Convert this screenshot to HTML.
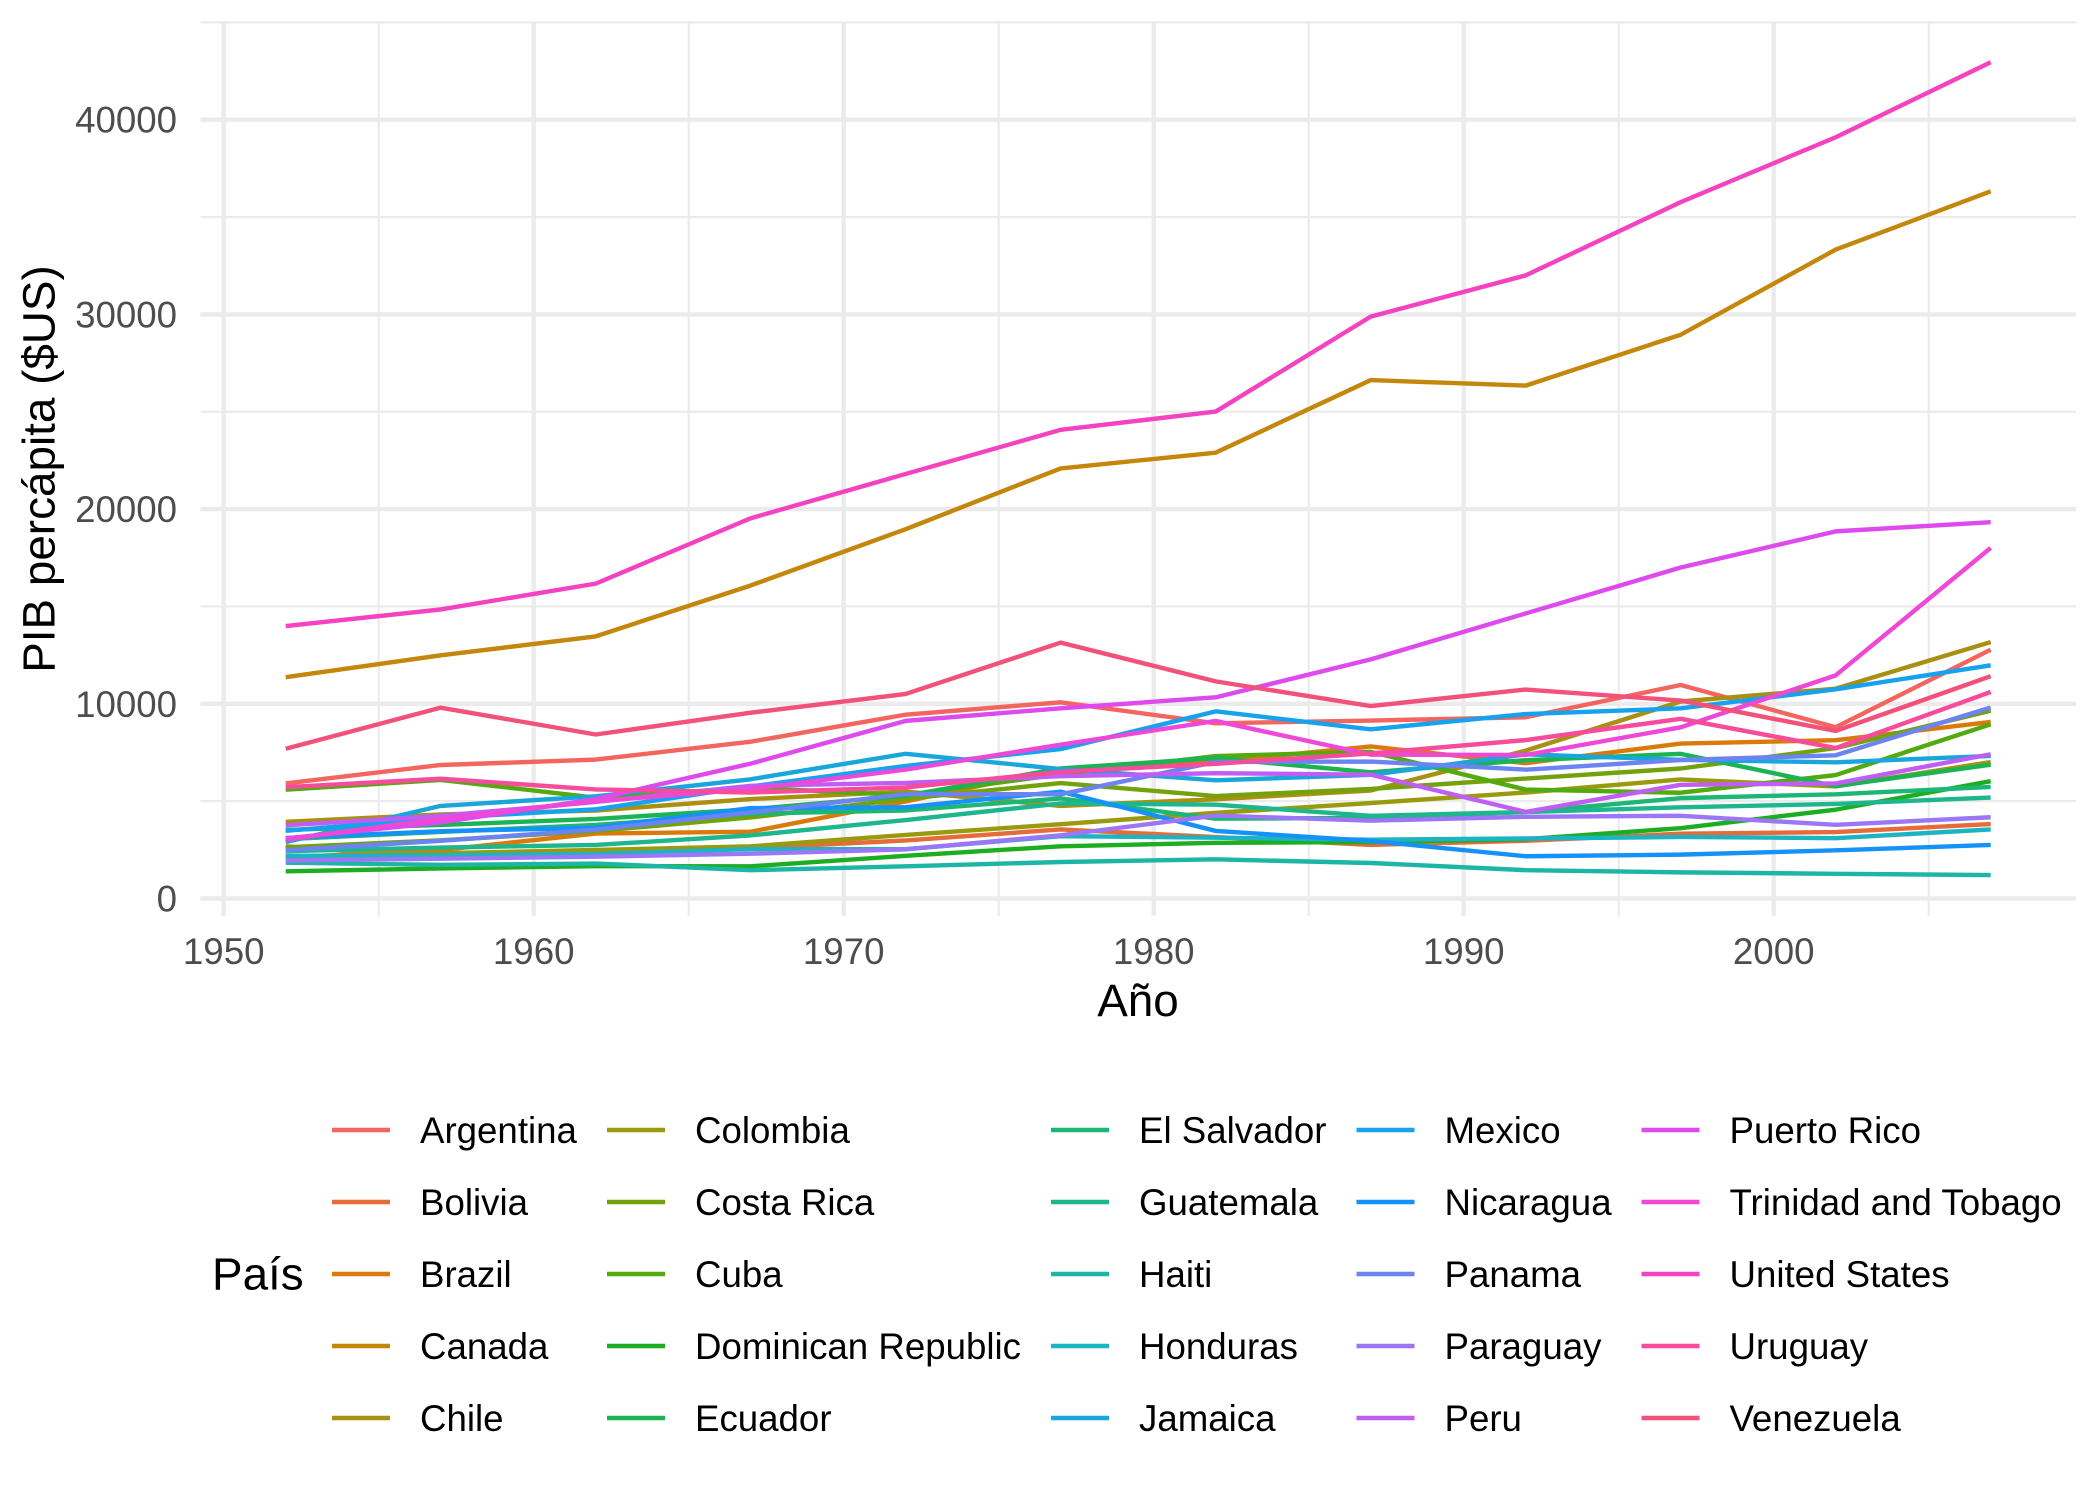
<!DOCTYPE html>
<html><head><meta charset="utf-8"><style>
html,body{margin:0;padding:0;background:#fff;}
svg{display:block;}
text{font-family:"Liberation Sans",Arial,sans-serif;}
</style></head><body>
<svg width="2099" height="1499" viewBox="0 0 2099 1499" xmlns="http://www.w3.org/2000/svg">
<rect width="2099" height="1499" fill="#fff"/>
<g stroke="#EBEBEB" stroke-width="2.2">
<line x1="200.45" x2="2076" y1="801.15" y2="801.15"/>
<line x1="200.45" x2="2076" y1="606.45" y2="606.45"/>
<line x1="200.45" x2="2076" y1="411.75" y2="411.75"/>
<line x1="200.45" x2="2076" y1="217.05" y2="217.05"/>
<line x1="200.45" x2="2076" y1="22.35" y2="22.35"/>
<line y1="21.6" y2="915.75" x1="378.7" x2="378.7"/>
<line y1="21.6" y2="915.75" x1="688.7" x2="688.7"/>
<line y1="21.6" y2="915.75" x1="998.7" x2="998.7"/>
<line y1="21.6" y2="915.75" x1="1308.7" x2="1308.7"/>
<line y1="21.6" y2="915.75" x1="1618.7" x2="1618.7"/>
<line y1="21.6" y2="915.75" x1="1928.7" x2="1928.7"/>
</g>
<g stroke="#EBEBEB" stroke-width="4.4">
<line x1="200.45" x2="2076" y1="898.5" y2="898.5"/>
<line x1="200.45" x2="2076" y1="703.8" y2="703.8"/>
<line x1="200.45" x2="2076" y1="509.1" y2="509.1"/>
<line x1="200.45" x2="2076" y1="314.4" y2="314.4"/>
<line x1="200.45" x2="2076" y1="119.7" y2="119.7"/>
<line y1="21.6" y2="915.75" x1="223.7" x2="223.7"/>
<line y1="21.6" y2="915.75" x1="533.7" x2="533.7"/>
<line y1="21.6" y2="915.75" x1="843.7" x2="843.7"/>
<line y1="21.6" y2="915.75" x1="1153.7" x2="1153.7"/>
<line y1="21.6" y2="915.75" x1="1463.7" x2="1463.7"/>
<line y1="21.6" y2="915.75" x1="1773.7" x2="1773.7"/>
</g>
<g transform="matrix(31,0,0,-0.01947,223.7,898.5)" fill="none" stroke-width="4.4" stroke-linejoin="round">
<polyline vector-effect="non-scaling-stroke" stroke="#F3655F" points="2,5911.3 7,6856.9 12,7133.2 17,8053.0 22,9443.0 27,10079.0 32,8997.9 37,9139.7 42,9308.4 47,10967.3 52,8797.6 57,12779.4"/>
<polyline vector-effect="non-scaling-stroke" stroke="#E56C38" points="2,2677.3 7,2127.7 12,2181.0 17,2586.9 22,2980.3 27,3548.1 32,3156.5 37,2753.7 42,2961.7 47,3326.1 52,3413.3 57,3822.1"/>
<polyline vector-effect="non-scaling-stroke" stroke="#DB7A0A" points="2,2108.9 7,2487.4 12,3336.6 17,3429.9 22,4985.7 27,6660.1 32,7030.8 37,7807.1 42,6950.3 47,7958.0 52,8131.2 57,9065.8"/>
<polyline vector-effect="non-scaling-stroke" stroke="#C4870C" points="2,11367.2 7,12490.0 12,13462.5 17,16076.6 22,18970.6 27,22090.9 32,22898.8 37,26626.5 42,26342.9 47,28954.9 52,33329.0 57,36319.2"/>
<polyline vector-effect="non-scaling-stroke" stroke="#A99012" points="2,3940.0 7,4315.6 12,4519.1 17,5106.7 22,5494.0 27,4756.8 32,5095.7 37,5547.1 42,7596.1 47,10118.1 52,10778.8 57,13171.6"/>
<polyline vector-effect="non-scaling-stroke" stroke="#999A0E" points="2,2144.1 7,2323.8 12,2492.4 17,2678.7 22,3264.7 27,3815.8 32,4397.6 37,4903.2 42,5444.6 47,6117.4 52,5755.3 57,7006.6"/>
<polyline vector-effect="non-scaling-stroke" stroke="#74A20E" points="2,2627.0 7,2990.0 12,3460.9 17,4161.7 22,5118.1 27,5926.9 32,5262.7 37,5629.9 42,6160.4 47,6677.0 52,7723.4 57,9645.1"/>
<polyline vector-effect="non-scaling-stroke" stroke="#52AA0E" points="2,5586.5 7,6092.2 12,5180.8 17,5690.3 22,5305.4 27,6380.5 32,7316.9 37,7532.9 42,5592.8 47,5432.0 52,6340.6 57,8948.1"/>
<polyline vector-effect="non-scaling-stroke" stroke="#1DAD21" points="2,1397.7 7,1544.4 12,1662.1 17,1653.7 22,2189.9 27,2682.0 32,2861.1 37,2899.8 42,3044.2 47,3614.1 52,4563.8 57,6025.4"/>
<polyline vector-effect="non-scaling-stroke" stroke="#1BB354" points="2,3522.1 7,3780.5 12,4086.1 17,4579.1 22,5281.0 27,6679.6 32,7213.8 37,6481.8 42,7103.7 47,7429.5 52,5773.0 57,6873.3"/>
<polyline vector-effect="non-scaling-stroke" stroke="#1DB775" points="2,3048.3 7,3421.5 12,3776.8 17,4358.6 22,4520.2 27,5138.9 32,4098.3 37,4140.4 42,4444.2 47,5154.8 52,5351.6 57,5728.4"/>
<polyline vector-effect="non-scaling-stroke" stroke="#1EB68D" points="2,2428.2 7,2617.2 12,2750.4 17,3242.5 22,4031.4 27,4880.0 32,4820.5 37,4246.5 42,4439.5 47,4684.3 52,4858.3 57,5186.1"/>
<polyline vector-effect="non-scaling-stroke" stroke="#1DB5A5" points="2,1840.4 7,1726.9 12,1796.6 17,1452.1 22,1654.5 27,1874.3 32,2011.2 37,1823.0 42,1456.3 47,1341.7 52,1270.4 57,1201.6"/>
<polyline vector-effect="non-scaling-stroke" stroke="#1CB3C3" points="2,2194.9 7,2220.5 12,2291.2 17,2538.3 22,2529.8 27,3203.2 32,3121.8 37,3023.1 42,3081.7 47,3160.5 52,3099.7 57,3548.3"/>
<polyline vector-effect="non-scaling-stroke" stroke="#18A6DB" points="2,2898.5 7,4756.5 12,5246.1 17,6124.7 22,7433.9 27,6650.2 32,6068.1 37,6351.2 42,7404.9 47,7121.9 52,6994.8 57,7320.9"/>
<polyline vector-effect="non-scaling-stroke" stroke="#17A2EE" points="2,3478.1 7,4131.5 12,4581.6 17,5754.7 22,6809.4 27,7674.9 32,9611.1 37,8688.2 42,9472.4 47,9767.3 52,10742.4 57,11977.6"/>
<polyline vector-effect="non-scaling-stroke" stroke="#1592F7" points="2,3112.4 7,3457.4 12,3634.4 17,4643.4 22,4688.6 27,5486.4 32,3470.3 37,2956.0 42,2170.2 47,2253.0 52,2474.5 57,2749.3"/>
<polyline vector-effect="non-scaling-stroke" stroke="#6C84F2" points="2,2480.4 7,2961.8 12,3536.5 17,4421.0 22,5364.3 27,5351.9 32,7009.6 37,7034.8 42,6618.7 47,7113.7 52,7356.0 57,9809.2"/>
<polyline vector-effect="non-scaling-stroke" stroke="#9B76F5" points="2,1952.3 7,2046.2 12,2148.0 17,2299.4 22,2523.3 27,3248.4 32,4258.5 37,3998.9 42,4196.4 47,4247.4 52,3783.7 57,4172.8"/>
<polyline vector-effect="non-scaling-stroke" stroke="#C05EF3" points="2,3758.5 7,4245.3 12,4957.0 17,5788.1 22,5937.8 27,6281.3 32,6434.5 37,6360.9 42,4446.4 47,5838.3 52,5909.0 57,7408.9"/>
<polyline vector-effect="non-scaling-stroke" stroke="#DE4AEE" points="2,3082.0 7,3907.2 12,5108.3 17,6929.3 22,9123.0 27,9770.5 32,10331.0 37,12281.3 42,14641.6 47,16999.4 52,18855.6 57,19328.7"/>
<polyline vector-effect="non-scaling-stroke" stroke="#EE48D8" points="2,3023.3 7,4100.4 12,4997.5 17,5621.4 22,6619.6 27,7899.6 32,9119.5 37,7388.6 42,7371.0 47,8792.6 52,11460.6 57,18008.5"/>
<polyline vector-effect="non-scaling-stroke" stroke="#F442C0" points="2,13990.5 7,14847.1 12,16173.1 17,19530.4 22,21806.0 27,24072.6 32,25009.6 37,29884.4 42,32003.9 47,35767.4 52,39097.1 57,42951.7"/>
<polyline vector-effect="non-scaling-stroke" stroke="#F64C9B" points="2,5716.8 7,6150.8 12,5603.4 17,5444.6 22,5703.4 27,6504.3 32,6920.2 37,7452.4 42,8137.0 47,9230.2 52,7727.0 57,10611.5"/>
<polyline vector-effect="non-scaling-stroke" stroke="#F2527A" points="2,7689.8 7,9802.5 12,8423.0 17,9541.5 22,10505.3 27,13144.0 32,11152.4 37,9883.6 42,10733.9 47,10165.5 52,8605.0 57,11415.8"/>
</g>
<g font-size="36.67" fill="#4D4D4D" text-anchor="end">
<text x="177" y="911.5">0</text>
<text x="177" y="716.8">10000</text>
<text x="177" y="522.1">20000</text>
<text x="177" y="327.4">30000</text>
<text x="177" y="132.7">40000</text>
</g>
<g font-size="36.67" fill="#4D4D4D" text-anchor="middle">
<text x="223.7" y="964">1950</text>
<text x="533.7" y="964">1960</text>
<text x="843.7" y="964">1970</text>
<text x="1153.7" y="964">1980</text>
<text x="1463.7" y="964">1990</text>
<text x="1773.7" y="964">2000</text>
</g>
<text x="1138" y="1016" font-size="45.83" fill="#000" text-anchor="middle">Año</text>
<text transform="translate(54.5,469) rotate(-90)" font-size="45.83" fill="#000" text-anchor="middle">PIB percápita ($US)</text>
<text x="212" y="1289.5" font-size="45.83" fill="#000">País</text>
<g stroke-width="4.4">
<line x1="332" x2="390" y1="1130" y2="1130" stroke="#F3655F"/>
<line x1="332" x2="390" y1="1202" y2="1202" stroke="#E56C38"/>
<line x1="332" x2="390" y1="1274" y2="1274" stroke="#DB7A0A"/>
<line x1="332" x2="390" y1="1346" y2="1346" stroke="#C4870C"/>
<line x1="332" x2="390" y1="1418" y2="1418" stroke="#A99012"/>
<line x1="607" x2="665" y1="1130" y2="1130" stroke="#999A0E"/>
<line x1="607" x2="665" y1="1202" y2="1202" stroke="#74A20E"/>
<line x1="607" x2="665" y1="1274" y2="1274" stroke="#52AA0E"/>
<line x1="607" x2="665" y1="1346" y2="1346" stroke="#1DAD21"/>
<line x1="607" x2="665" y1="1418" y2="1418" stroke="#1BB354"/>
<line x1="1051" x2="1109" y1="1130" y2="1130" stroke="#1DB775"/>
<line x1="1051" x2="1109" y1="1202" y2="1202" stroke="#1EB68D"/>
<line x1="1051" x2="1109" y1="1274" y2="1274" stroke="#1DB5A5"/>
<line x1="1051" x2="1109" y1="1346" y2="1346" stroke="#1CB3C3"/>
<line x1="1051" x2="1109" y1="1418" y2="1418" stroke="#18A6DB"/>
<line x1="1356.5" x2="1414.5" y1="1130" y2="1130" stroke="#17A2EE"/>
<line x1="1356.5" x2="1414.5" y1="1202" y2="1202" stroke="#1592F7"/>
<line x1="1356.5" x2="1414.5" y1="1274" y2="1274" stroke="#6C84F2"/>
<line x1="1356.5" x2="1414.5" y1="1346" y2="1346" stroke="#9B76F5"/>
<line x1="1356.5" x2="1414.5" y1="1418" y2="1418" stroke="#C05EF3"/>
<line x1="1641.5" x2="1699.5" y1="1130" y2="1130" stroke="#DE4AEE"/>
<line x1="1641.5" x2="1699.5" y1="1202" y2="1202" stroke="#EE48D8"/>
<line x1="1641.5" x2="1699.5" y1="1274" y2="1274" stroke="#F442C0"/>
<line x1="1641.5" x2="1699.5" y1="1346" y2="1346" stroke="#F64C9B"/>
<line x1="1641.5" x2="1699.5" y1="1418" y2="1418" stroke="#F2527A"/>
</g>
<g font-size="36.67" fill="#000">
<text x="420" y="1143">Argentina</text>
<text x="420" y="1215">Bolivia</text>
<text x="420" y="1287">Brazil</text>
<text x="420" y="1359">Canada</text>
<text x="420" y="1431">Chile</text>
<text x="695" y="1143">Colombia</text>
<text x="695" y="1215">Costa Rica</text>
<text x="695" y="1287">Cuba</text>
<text x="695" y="1359">Dominican Republic</text>
<text x="695" y="1431">Ecuador</text>
<text x="1139" y="1143">El Salvador</text>
<text x="1139" y="1215">Guatemala</text>
<text x="1139" y="1287">Haiti</text>
<text x="1139" y="1359">Honduras</text>
<text x="1139" y="1431">Jamaica</text>
<text x="1444.5" y="1143">Mexico</text>
<text x="1444.5" y="1215">Nicaragua</text>
<text x="1444.5" y="1287">Panama</text>
<text x="1444.5" y="1359">Paraguay</text>
<text x="1444.5" y="1431">Peru</text>
<text x="1729.5" y="1143">Puerto Rico</text>
<text x="1729.5" y="1215">Trinidad and Tobago</text>
<text x="1729.5" y="1287">United States</text>
<text x="1729.5" y="1359">Uruguay</text>
<text x="1729.5" y="1431">Venezuela</text>
</g>
</svg>
</body></html>
